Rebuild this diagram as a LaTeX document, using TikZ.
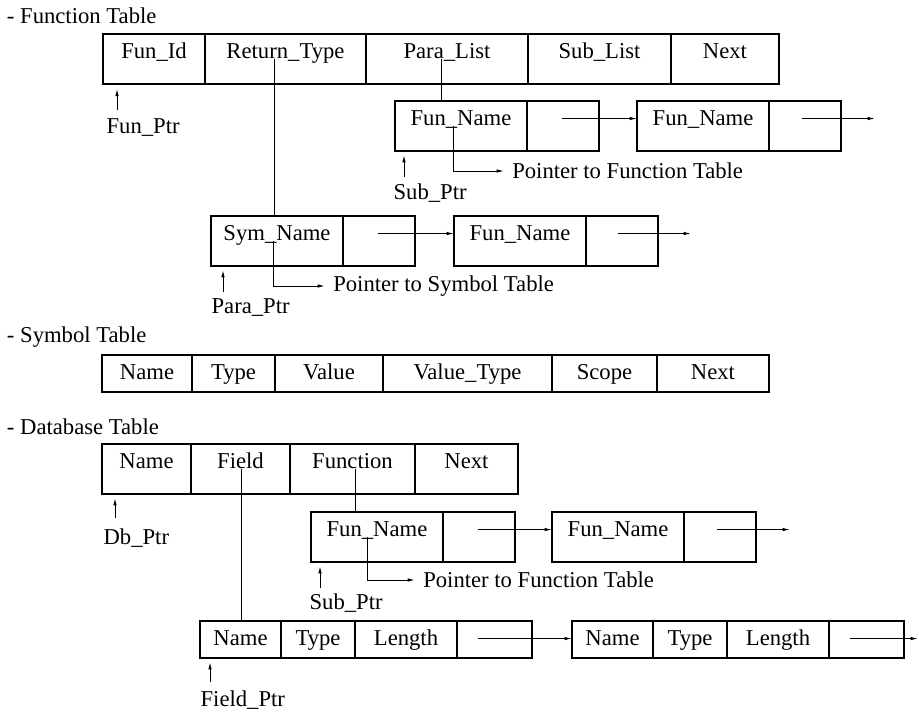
\documentclass[tikz,border=0pt]{standalone}
\usepackage{fontspec}
\setmainfont{Liberation Serif}
\usetikzlibrary{arrows.meta}
\begin{document}
\begin{tikzpicture}[x=0.75pt, y=-0.75pt, font=\fontsize{17}{20}\selectfont,
  slot/.style={draw, line width=1.2pt, inner sep=0pt, outer sep=0pt, anchor=north west, text height=18.4pt, text depth=19.1pt},
  shortslot/.style={slot, text depth=9.35pt},
  ptr/.style={line width=0.75pt, -{Latex[length=5.5pt,width=2.6pt]}},
  link/.style={line width=0.75pt}]
\useasboundingbox (0,0) rectangle (919,711);

% Function Table
\node[right, inner sep=2pt] (fttitle) at (4,16) {- Function Table};
\node[slot, minimum width=76.5pt] (ftid) at (103,34) {Fun\_Id};
\node[slot, minimum width=120.75pt] (ftret) at (ftid.north east) {Return\_Type};
\node[slot, minimum width=121.5pt] (ftpara) at (ftret.north east) {Para\_List};
\node[slot, minimum width=107.25pt] (ftsub) at (ftpara.north east) {Sub\_List};
\node[slot, minimum width=81pt] (ftnext) at (ftsub.north east) {Next};
\node[right, inner sep=1pt] (funptr) at (105,128) {Fun\_Ptr};
\draw[ptr] ([xshift=10.5pt,yshift=-19.5pt]ftid.south west) -- ([xshift=10.5pt,yshift=-3.5pt]ftid.south west);

% Sub_List
\node[slot, minimum width=99pt] (slname) at (395,101) {Fun\_Name};
\node[slot, minimum width=54pt] (slnext) at (slname.north east) {};
\node[slot, minimum width=99pt] (slname2) at (637,101) {Fun\_Name};
\node[slot, minimum width=54pt] (slnext2) at (slname2.north east) {};
\coordinate (slend) at ([xshift=25.5pt,yshift=5.25pt]slnext2.base east);
\node[right, inner sep=1pt] (subptr) at (392,193) {Sub\_Ptr};
\node[right, inner xsep=6pt] (slfun) at (504,171) {Pointer to Function Table};
\draw[link] ([xshift=-4.5pt]ftpara.base) -- ([xshift=-4.5pt]ftpara.base |- slname.north);
\draw[ptr] ([xshift=-6pt]slname.base) |- (slfun.west);
\draw[ptr] ([xshift=26.25pt,yshift=5.25pt]slnext.base west) -- ([yshift=5.25pt]slname2.base west);
\draw[ptr] ([xshift=25pt,yshift=5.25pt]slnext2.base west) -- (slend);
\draw[ptr] ([xshift=6.75pt,yshift=-19.5pt]slname.south west) -- ([xshift=6.75pt,yshift=-3pt]slname.south west);

% Para_List
\node[slot, minimum width=99pt] (plname) at (211,216) {Sym\_Name};
\node[slot, minimum width=54pt] (plnext) at (plname.north east) {};
\node[slot, minimum width=99pt] (plname2) at (454,216) {Fun\_Name};
\node[slot, minimum width=54pt] (plnext2) at (plname2.north east) {};
\coordinate (plend) at ([xshift=24.75pt,yshift=5.25pt]plnext2.base east);
\node[right, inner sep=1pt] (paraptr) at (210,308) {Para\_Ptr};
\node[right, inner xsep=6pt] (plsym) at (325,286) {Pointer to Symbol Table};
\draw[link] ([xshift=-8.6pt]ftret.base) -- ([xshift=-8.6pt]ftret.base |- plname.north);
\draw[ptr] ([xshift=-3pt]plname.base) |- (plsym.west);
\draw[ptr] ([xshift=26.25pt,yshift=5.25pt]plnext.base west) -- ([yshift=5.25pt]plname2.base west);
\draw[ptr] ([xshift=24pt,yshift=5.25pt]plnext2.base west) -- (plend);
\draw[ptr] ([xshift=9pt,yshift=-19.5pt]plname.south west) -- ([xshift=9pt,yshift=-3pt]plname.south west);

% Symbol Table
\node[right, inner sep=2pt] (sttitle) at (4,337) {- Symbol Table};
\node[shortslot, minimum width=67.5pt] (stname) at (102,355) {Name};
\node[shortslot, minimum width=62.25pt] (sttype) at (stname.north east) {Type};
\node[shortslot, minimum width=81pt] (stvalue) at (sttype.north east) {Value};
\node[shortslot, minimum width=126.75pt] (stvtype) at (stvalue.north east) {Value\_Type};
\node[shortslot, minimum width=78.75pt] (stscope) at (stvtype.north east) {Scope};
\node[shortslot, minimum width=84pt] (stnext) at (stscope.north east) {Next};

% Database Table
\node[right, inner sep=2pt] (dttitle) at (4,427) {- Database Table};
\node[slot, minimum width=66.75pt] (dtname) at (102,444) {Name};
\node[slot, minimum width=74.25pt] (dtfield) at (dtname.north east) {Field};
\node[slot, minimum width=93.75pt] (dtfun) at (dtfield.north east) {Function};
\node[slot, minimum width=77.25pt] (dtnext) at (dtfun.north east) {Next};
\node[right, inner sep=1pt] (dbptr) at (102,538) {Db\_Ptr};
\draw[ptr] ([xshift=9.75pt,yshift=-18pt]dtname.south west) -- ([xshift=9.75pt,yshift=-3pt]dtname.south west);

% Function list of the database
\node[slot, minimum width=99pt] (dfname) at (311,512) {Fun\_Name};
\node[slot, minimum width=54pt] (dfnext) at (dfname.north east) {};
\node[slot, minimum width=99pt] (dfname2) at (552,512) {Fun\_Name};
\node[slot, minimum width=54pt] (dfnext2) at (dfname2.north east) {};
\coordinate (dfend) at ([xshift=25.5pt,yshift=5.25pt]dfnext2.base east);
\node[right, inner sep=1pt] (dsubptr) at (308,603) {Sub\_Ptr};
\node[right, inner xsep=6pt] (dffun) at (415,580) {Pointer to Function Table};
\draw[link] ([xshift=2.6pt]dtfun.base) -- ([xshift=2.6pt]dtfun.base |- dfname.north);
\draw[ptr] ([xshift=-7.5pt]dfname.base) |- (dffun.west);
\draw[ptr] ([xshift=26.25pt,yshift=5.25pt]dfnext.base west) -- ([yshift=5.25pt]dfname2.base west);
\draw[ptr] ([xshift=25pt,yshift=5.25pt]dfnext2.base west) -- (dfend);
\draw[ptr] ([xshift=6.75pt,yshift=-19.5pt]dfname.south west) -- ([xshift=6.75pt,yshift=-3pt]dfname.south west);

% Field list
\node[shortslot, minimum width=60.75pt] (fdname) at (200,621) {Name};
\node[shortslot, minimum width=55.5pt] (fdtype) at (fdname.north east) {Type};
\node[shortslot, minimum width=76.5pt] (fdlen) at (fdtype.north east) {Length};
\node[shortslot, minimum width=56.25pt] (fdnext) at (fdlen.north east) {};
\node[shortslot, minimum width=60.75pt] (fdname2) at (572,621) {Name};
\node[shortslot, minimum width=55.5pt] (fdtype2) at (fdname2.north east) {Type};
\node[shortslot, minimum width=76.5pt] (fdlen2) at (fdtype2.north east) {Length};
\node[shortslot, minimum width=56.25pt] (fdnext2) at (fdlen2.north east) {};
\coordinate (fdend) at ([xshift=10.5pt,yshift=5.25pt]fdnext2.base east);
\node[right, inner sep=1pt] (fieldptr) at (199,700) {Field\_Ptr};
\draw[link] ([xshift=1.1pt]dtfield.base) -- ([xshift=1.1pt]dtfield.base |- fdname.north);
\draw[ptr] ([xshift=15.75pt,yshift=5.25pt]fdnext.base west) -- ([yshift=5.25pt]fdname2.base west);
\draw[ptr] ([xshift=15.75pt,yshift=5.25pt]fdnext2.base west) -- (fdend);
\draw[ptr] ([xshift=7.5pt,yshift=-18pt]fdname.south west) -- ([xshift=7.5pt,yshift=-3pt]fdname.south west);
\end{tikzpicture}
\end{document}
